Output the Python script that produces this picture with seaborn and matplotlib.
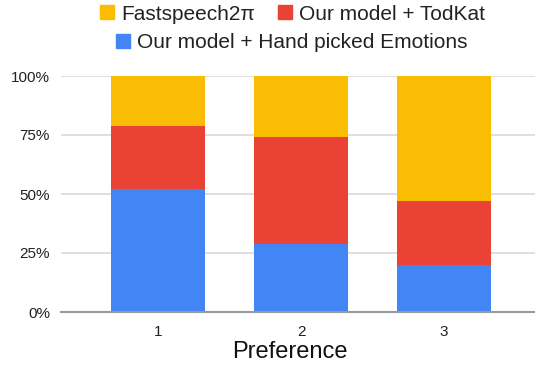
import matplotlib
matplotlib.use("Agg")
import matplotlib.pyplot as plt
import seaborn as sns
import numpy as np
import pandas as pd
from matplotlib.lines import Line2D

categories = ["1", "2", "3"]
hand_picked = [52, 29, 20]
todkat = [27, 45, 27]
fastspeech = [21, 26, 53]
series_names = ["Fastspeech2π", "Our model + TodKat", "Our model + Hand picked Emotions"]
colors = {"Fastspeech2π": "#FBBC04", "Our model + TodKat": "#EA4335",
          "Our model + Hand picked Emotions": "#4285F4"}
yticks = [0, 25, 50, 75, 100]
ytick_labels = ["0%", "25%", "50%", "75%", "100%"]

sns.set_theme(style="white")
plt.rcParams['font.family'] = ['Liberation Sans', 'DejaVu Sans']

fig = plt.figure(figsize=(5.35, 3.68), dpi=100)
ax = fig.add_axes([61/535, 1-312/368, 1-61/535, (312-76)/368])

# cumulative tops for stacking (drawn from top layer down)
blue = np.array(hand_picked, dtype=float)
red = blue + np.array(todkat)
yellow = red + np.array(fastspeech)
layers = [("Fastspeech2π", yellow), ("Our model + TodKat", red),
          ("Our model + Hand picked Emotions", blue)]

for name, vals in layers:
    df = pd.DataFrame({"cat": categories, "val": vals})
    sns.barplot(data=df, x="cat", y="val", color=colors[name], width=0.66,
                saturation=1, ax=ax, zorder=3, linewidth=0, edgecolor="none")

ax.set_xlim(-0.678, 2.636)
ax.set_ylim(0, 100)
ax.set_yticks(yticks)
ax.set_yticklabels(ytick_labels)
ax.yaxis.grid(True, color="#dadada", linewidth=1.2, zorder=0)
ax.set_axisbelow(True)
for s in ["top", "right", "left"]:
    ax.spines[s].set_visible(False)
ax.spines["bottom"].set_color("#999999")
ax.spines["bottom"].set_linewidth(1.5)
ax.spines["bottom"].set_zorder(4)
ax.tick_params(axis="both", length=0, labelsize=11, colors="#222222")
ax.tick_params(axis="y", pad=8)
ax.tick_params(axis="x", pad=9)
ax.set_xlabel("Preference", fontsize=17, color="#111111")
ax.set_ylabel("")
ax.xaxis.set_label_coords((289.5-61)/474, -(352-312)/236, transform=ax.transAxes)
ax.xaxis.label.set_va("center")

def handle(name):
    return Line2D([], [], marker="s", linestyle="", markersize=9.5,
                  markerfacecolor=colors[name], markeredgecolor=colors[name])

leg1 = fig.legend(handles=[handle(series_names[0]), handle(series_names[1])],
                  labels=series_names[:2], ncol=2, loc="center",
                  bbox_to_anchor=(292/535, 1-14/368), frameon=False,
                  fontsize=15, handletextpad=0.3, columnspacing=1.0,
                  handlelength=0.8)
leg2 = fig.legend(handles=[handle(series_names[2])], labels=series_names[2:],
                  loc="center", bbox_to_anchor=(291/535, 1-43/368), frameon=False,
                  fontsize=15, handletextpad=0.3, handlelength=0.8)
for leg in (leg1, leg2):
    for t in leg.get_texts():
        t.set_color("#222222")

fig.savefig("out.png", dpi=100)
